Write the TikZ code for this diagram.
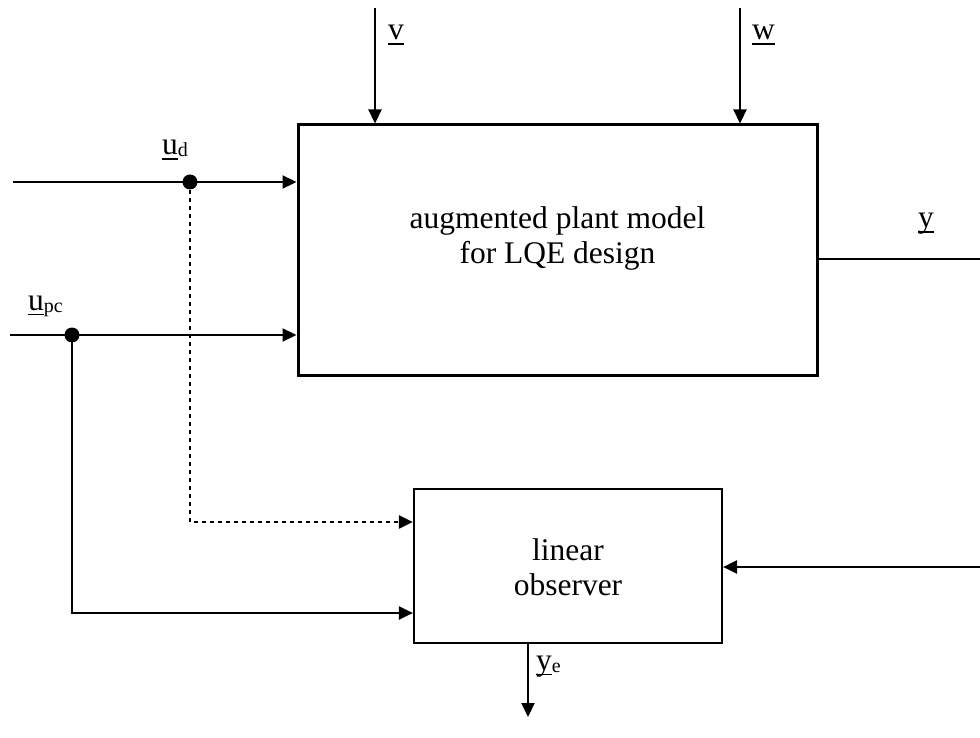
\documentclass[tikz,border=0pt]{standalone}
\usepackage{fontspec}
\setmainfont{Liberation Serif}
\usetikzlibrary{arrows.meta}
\newcommand\ulbox[1]{\setbox0\hbox{#1}\rlap{\rule[-5pt]{\wd0}{1.5pt}}\box0}
\newcommand\subtxt[1]{\raisebox{-2pt}{\fontsize{20}{20}\selectfont #1}}
\begin{document}
\begin{tikzpicture}[x=1pt,y=-1pt,
  sig/.style={line width=2.2pt,-{Triangle[length=14pt,width=13pt]}},
  plain/.style={line width=2.2pt},
  dotsig/.style={line width=2.8pt,dash pattern=on 4pt off 4pt,-{Triangle[length=14pt,width=13pt]}},
  blk/.style={draw,rectangle,inner sep=0pt,align=center,font=\fontsize{31.5}{35}\selectfont},
  lbl/.style={inner sep=0pt,anchor=base west,font=\fontsize{31.5}{35}\selectfont},
  junc/.style={circle,fill=black,inner sep=0pt,minimum size=15pt}]
\useasboundingbox (0,0) rectangle (980,738);
% blocks
\node[blk,line width=3pt,minimum width=519pt,minimum height=250pt] (plant) at (557.5,250) {};
\node[inner sep=0pt,align=center,font=\fontsize{31.5}{35}\selectfont] (planttxt) at (557.5,238) {augmented plant model\\for LQE design};
\node[blk,line width=2.2pt,minimum width=308pt,minimum height=154pt] (obs) at (568,566) {};
\node[inner sep=0pt,align=center,font=\fontsize{31.5}{35}\selectfont] (obstxt) at (568,567) {linear\\observer};
% coordinates
\coordinate (vtop) at (375,8);
\coordinate (wtop) at (740,8);
\coordinate (udstart) at (13,182);
\coordinate (upcstart) at (10,335);
\coordinate (yend) at (980,259);
\coordinate (yin) at (980,567);
\coordinate (yeend) at (528,717);
\node[junc] (jd) at (190,182) {};
\node[junc] (jpc) at (72,335) {};
\coordinate (dcorner) at (190,522);
\coordinate (pccorner) at (72,613);
% connectors
\draw[sig] (vtop) -- (vtop |- plant.north);
\draw[sig] (wtop) -- (wtop |- plant.north);
\draw[plain] (udstart) -- (jd.center);
\draw[sig] (jd.center) -- (jd -| plant.west);
\draw[plain] (upcstart) -- (jpc.center);
\draw[sig] (jpc.center) -- (jpc -| plant.west);
\draw[plain] (plant.east |- yend) -- (yend);
\draw[sig] (yin) -- (yin -| obs.east);
\draw[dotsig] (jd.south) -- (dcorner) -- (dcorner -| obs.west);
\draw[sig] (jpc.center) -- (pccorner) -- (pccorner -| obs.west);
\draw[sig] (yeend |- obs.south) -- (yeend);
% labels
\node[lbl] (lv) at (388,40) {\ulbox{v}};
\node[lbl] (lw) at (752,40) {\ulbox{w}};
\node[lbl] (lud) at (162,155) {\ulbox{u}\subtxt{d}};
\node[lbl] (lupc) at (28,310) {\ulbox{u}\subtxt{pc}};
\node[lbl] (ly) at (918,228) {\ulbox{y}};
\node[lbl] (lye) at (536,670) {\ulbox{y}\subtxt{e}};
\end{tikzpicture}
\end{document}
